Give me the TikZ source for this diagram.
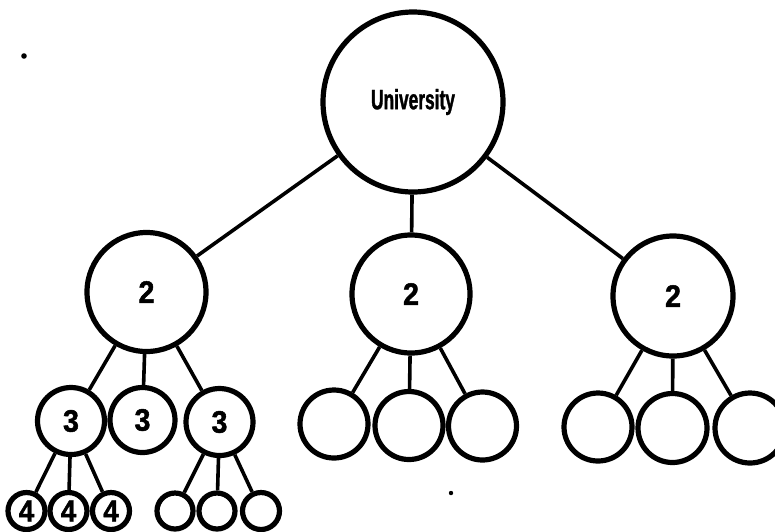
\documentclass[tikz,border=0pt]{standalone}
\usepackage{fontspec}
\setmainfont{Liberation Sans}
\newfontfamily\labelfont[FakeStretch=0.62,FakeBold=1.2]{Liberation Sans}
\newfontfamily\digitfont[FakeStretch=0.92,FakeBold=1.6]{Liberation Sans}
\begin{document}
\begin{tikzpicture}[x=1pt,y=-1pt,
  unit/.style={circle,draw=black,line width=5.2pt,fill=white,inner sep=0pt,
    minimum size=#1},
  link/.style={line width=3.6pt},
  num/.style={font=\digitfont\bfseries\fontsize{31}{31}\selectfont},
  smallnum/.style={font=\digitfont\bfseries\fontsize{30}{30}\selectfont}]
\useasboundingbox (0,0) rectangle (775,531);

% top level
\node[unit=180pt,font=\labelfont\bfseries\fontsize{28}{28}\selectfont] (U) at (413,102) {University};

% second level
\node[unit=119pt,num] (A) at (146.5,292) {2};
\node[unit=118pt,num] (B) at (411,294) {2};
\node[unit=120pt,num] (C) at (673,296) {2};

% third level, left branch
\node[unit=67pt,num] (A1) at (71,421) {3};
\node[unit=65pt,num] (A2) at (142.5,420) {3};
\node[unit=67pt,num] (A3) at (219.5,422) {3};

% third level, middle branch
\node[unit=68pt] (B1) at (334,424) {};
\node[unit=68pt] (B2) at (409,425.5) {};
\node[unit=68pt] (B3) at (482.5,426) {};

% third level, right branch
\node[unit=68pt] (C1) at (598,427) {};
\node[unit=69pt] (C2) at (672.5,428) {};
\node[unit=70pt] (C3) at (750,428) {};

% fourth level
\node[unit=37pt,smallnum] (A11) at (26.5,511) {4};
\node[unit=37pt,smallnum] (A12) at (68.5,511) {4};
\node[unit=37pt,smallnum] (A13) at (111,511) {4};
\node[unit=36pt] (A31) at (175,511) {};
\node[unit=36pt] (A32) at (217,511) {};
\node[unit=37pt] (A33) at (261,511) {};

% connectors
\foreach \p/\c in {U/A,U/B,U/C,
                   A/A1,A/A2,A/A3,
                   B/B1,B/B2,B/B3,
                   C/C1,C/C2,C/C3,
                   A1/A11,A1/A12,A1/A13,
                   A3/A31,A3/A32,A3/A33}
  \draw[link] (\p) -- (\c);

% specks on the sheet
\fill (24,56) circle (2.8pt);
\fill (451,493) circle (2.2pt);
\end{tikzpicture}
\end{document}
